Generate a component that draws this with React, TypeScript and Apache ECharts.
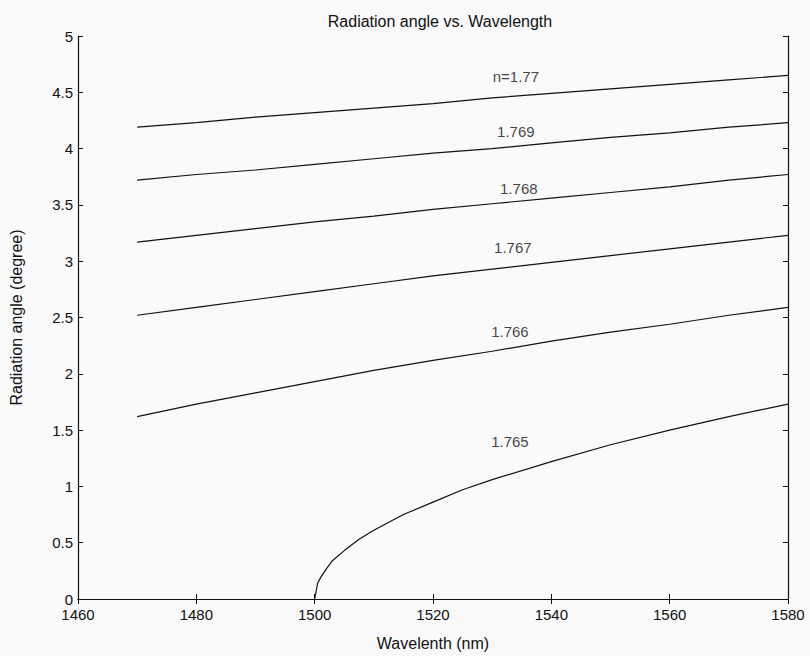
import React, { useEffect, useRef } from "react";
import * as echarts from "echarts";

const wl = [1470, 1480, 1490, 1500, 1510, 1520, 1530, 1540, 1550, 1560, 1570, 1580];
const n1770 = [4.19, 4.23, 4.28, 4.32, 4.36, 4.40, 4.45, 4.49, 4.53, 4.57, 4.61, 4.65];
const n1769 = [3.72, 3.77, 3.81, 3.86, 3.91, 3.96, 4.00, 4.05, 4.10, 4.14, 4.19, 4.23];
const n1768 = [3.17, 3.23, 3.29, 3.35, 3.40, 3.46, 3.51, 3.56, 3.61, 3.66, 3.72, 3.77];
const n1767 = [2.52, 2.59, 2.66, 2.73, 2.80, 2.87, 2.93, 2.99, 3.05, 3.11, 3.17, 3.23];
const n1766 = [1.62, 1.73, 1.83, 1.93, 2.03, 2.12, 2.20, 2.29, 2.37, 2.44, 2.52, 2.59];
const wl1765 = [1500, 1500.5, 1501, 1502, 1503, 1505, 1507.5, 1510, 1515, 1520, 1525, 1530, 1540, 1550, 1560, 1570, 1580];
const n1765 = [0, 0.14, 0.19, 0.27, 0.34, 0.43, 0.53, 0.61, 0.75, 0.86, 0.97, 1.06, 1.22, 1.37, 1.50, 1.62, 1.73];

const labelText = ["n=1.77", "1.769", "1.768", "1.767", "1.766", "1.765"];
const labelX = [1534, 1534, 1534.5, 1533.5, 1533, 1533];
const labelY = [4.64, 4.15, 3.65, 3.12, 2.38, 1.4];

const xTicks = [1460, 1480, 1500, 1520, 1540, 1560, 1580];
const yTicks = [0, 0.5, 1, 1.5, 2, 2.5, 3, 3.5, 4, 4.5, 5];

export default function App() {
  const ref = useRef<HTMLDivElement>(null);
  useEffect(() => {
    document.body.style.margin = "0";
    const chart = echarts.init(ref.current!, null, { renderer: "svg" });
    const font = "'Liberation Sans', Arial, sans-serif";
    const lineSeries = (data: number[], xs: number[]) => ({
      type: "line",
      data: xs.map((x, i) => [x, data[i]]),
      showSymbol: false,
      symbol: "none",
      lineStyle: { color: "#111", width: 1.2 },
      xAxisIndex: 0,
      yAxisIndex: 0,
    });
    const axisBase = {
      axisLine: { show: true, lineStyle: { color: "#111", width: 1.2 } },
      axisTick: { show: true, inside: true, length: 5, lineStyle: { color: "#111" } },
      splitLine: { show: false },
    };
    chart.setOption({
      animation: false,
      backgroundColor: "#fafafa",
      title: {
        text: "Radiation angle vs. Wavelength",
        left: 435,
        top: 8,
        textAlign: "center",
        textStyle: { fontSize: 16, fontWeight: "normal", color: "#111", fontFamily: font },
      },
      grid: { left: 77, right: 22, top: 36, bottom: 55 },
      xAxis: [
        {
          ...axisBase,
          type: "value",
          min: 1460,
          max: 1580,
          interval: 20,
          name: "Wavelenth (nm)",
          nameLocation: "middle",
          nameGap: 36,
          nameTextStyle: { fontSize: 16, color: "#111", fontFamily: font },
          axisLabel: {
            color: "#111",
            fontSize: 15,
            lineHeight: 15,
            fontFamily: font,
            margin: 8,
            formatter: (v: number) => (xTicks.includes(v) ? String(v) : ""),
          },
        },
        {
          ...axisBase,
          type: "value",
          position: "top",
          min: 1460,
          max: 1580,
          interval: 20,
          axisLabel: { show: false },
        },
      ],
      yAxis: [
        {
          ...axisBase,
          type: "value",
          min: 0,
          max: 5,
          interval: 0.5,
          name: "Radiation angle (degree)",
          nameLocation: "middle",
          nameGap: 54,
          nameTextStyle: { fontSize: 16, color: "#111", fontFamily: font },
          axisLabel: {
            color: "#111",
            fontSize: 15,
            lineHeight: 15,
            fontFamily: font,
            margin: 5,
            formatter: (v: number) => (yTicks.includes(v) ? String(v) : ""),
          },
        },
        {
          ...axisBase,
          type: "value",
          position: "right",
          min: 0,
          max: 5,
          interval: 0.5,
          axisLabel: { show: false },
        },
      ],
      series: [
        lineSeries(n1770, wl),
        lineSeries(n1769, wl),
        lineSeries(n1768, wl),
        lineSeries(n1767, wl),
        lineSeries(n1766, wl),
        lineSeries(n1765, wl1765),
        {
          type: "scatter",
          symbolSize: 0,
          data: labelText.map((t, i) => ({ value: [labelX[i], labelY[i]], name: t })),
          label: {
            show: true,
            position: "inside",
            formatter: (p: any) => p.name,
            color: "#111",
            fontSize: 15,
            fontFamily: font,
          },
          silent: true,
        },
      ],
    });
    return () => chart.dispose();
  }, []);
  return <div ref={ref} style={{ width: 810, height: 656 }} />;
}
